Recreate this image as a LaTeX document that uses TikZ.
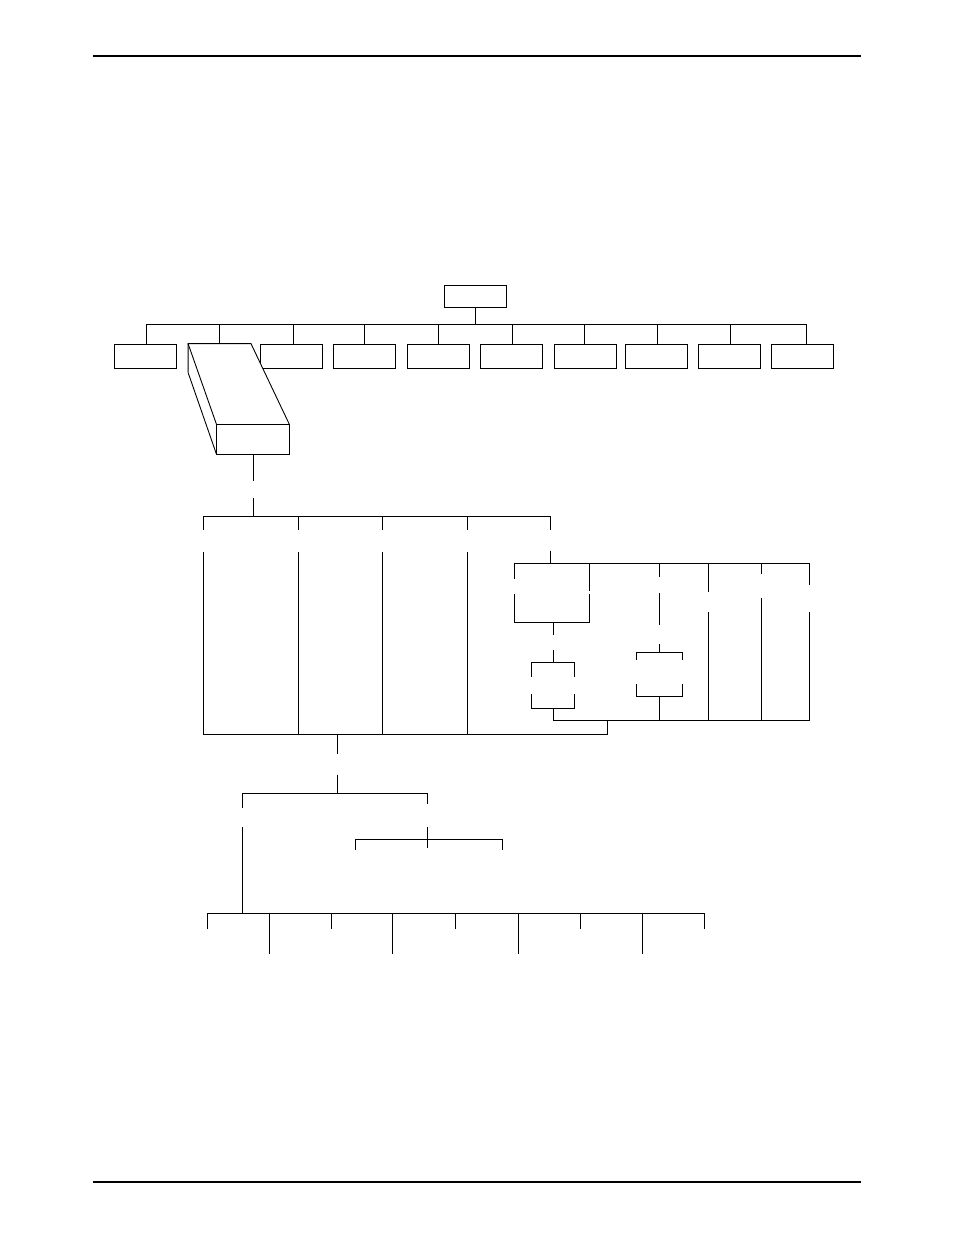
\documentclass[tikz,border=0pt]{standalone}
\usepackage{tikz}

\tikzset{
  blk/.style={draw, fill=white, inner sep=0pt, minimum width=62pt, minimum height=24pt},
  slot/.style={inner sep=0pt, minimum width=0pt, minimum height=#1},
  rule/.style={line width=1.4pt},
}

\begin{document}
\begin{tikzpicture}[x=1pt, y=-1pt, line width=0.9pt]
    \useasboundingbox (0,0) rectangle (954,1235);

    \draw[rule] (93,56) -- (861,56);
    \draw[rule] (93,1182) -- (861,1182);

    % top level
    \node[blk, minimum height=22pt] at (475,296) (top) {};
    \coordinate (j1) at (475,324);
    \draw (top) -- (j1);
    \foreach \n/\x in {1/145,3/291,4/364,5/438,6/511,7/585,8/656,9/729,10/802}
      \node[blk] at (\x,356) (b\n) {};
    \draw (146,344) |- (806,324) -- (806,344);
    \foreach \d in {293.9,364.8,438.5,512.3,584.2,657.5,730.3}
      \draw (\d,344) -- (\d,324);

    % the pulled-out box
    \node[inner sep=0pt, minimum width=62pt, minimum height=28pt] at (219.5,358) (b2) {};
    \node[inner sep=0pt, minimum width=72pt, minimum height=29pt] at (253,439.5) (b2f) {};
    \fill[white] (b2.north west) -- (b2.north east) -- (b2f.north east) -- (b2f.south east)
      -- (b2f.south west) -- (b2.south west) -- cycle;
    \draw (b2.south west) -- (b2.north west) -- (b2.north east) -- (b2f.north east);
    \draw (b2.north west) -- (b2f.north west);
    \draw (b2.south west) -- (b2f.south west);
    \draw (b2f.north west) rectangle (b2f.south east);
    \draw (b2.north) -- (b2.north |- j1);

    % second level
    \node[slot=17pt] at (253,489.5) (s0) {};
    \coordinate (j2) at (253,516);
    \draw (b2f) -- (s0) -- (j2);
    \foreach \n/\x in {1/203.5,2/298,3/382,4/467}
      \node[slot=21pt] at (\x,541.2) (c\n) {};
    \node[slot=19.5pt] at (550.4,540.3) (c5) {};
    \draw (c1.north) |- (c5.north |- j2) -- (c5.north);
    \foreach \n in {2,3,4}
      \draw (c\n.north) -- (c\n.north |- j2);
    \coordinate (j3) at (337.6,734.3);
    \coordinate (j5) at (607.6,720);
    \draw (c1.south) |- (j5 |- j3) -- (j5);
    \foreach \n in {2,3,4}
      \draw (c\n.south) -- (c\n.south |- j3);

    % right branch
    \coordinate (j4) at (550.4,563);
    \draw (c5) -- (j4);
    \node[slot=15pt] at (514.5,586.5) (r1) {};
    \node[slot=3pt] at (589,592.5) (r2) {};
    \node[slot=16pt] at (659,585) (r3) {};
    \node[slot=19pt] at (708.4,601.8) (r4) {};
    \node[slot=22.6pt] at (761.4,586) (r5) {};
    \node[slot=25.4pt] at (809.6,598.6) (r6) {};
    \draw (r1.north) |- (r6.north |- j4) -- (r6.north);
    \foreach \n in {2,3,4,5}
      \draw (r\n.north) -- (r\n.north |- j4);
    \coordinate (j6) at (553.3,720);
    \draw (j6) -- (r6.south |- j6) -- (r6.south);
    \foreach \n in {4,5}
      \draw (r\n.south) -- (r\n.south |- j6);

    % left pair
    \coordinate (k1) at (553.3,622.3);
    \draw (r1.south) |- (r2.south |- k1) -- (r2.south);
    \node[slot=14.3pt] at (553.3,642.2) (q1) {};
    \draw (k1) -- (q1);
    \node[slot=16pt] at (531,685.3) (q2) {};
    \node[slot=16pt] at (574,685.3) (q3) {};
    \coordinate (k2) at (553.3,662.7);
    \draw (q1) -- (k2);
    \draw (q2.north) |- (k2) -| (q3.north);
    \coordinate (k3) at (553.3,708.3);
    \draw (q2.south) |- (k3) -| (q3.south);
    \draw (k3) -- (j6);

    % middle pair
    \node[slot=17.6pt] at (659,634.5) (q4) {};
    \draw (r3) -- (q4);
    \coordinate (k4) at (659,652.3);
    \node[slot=23.3pt] at (636.5,672.3) (q5) {};
    \node[slot=23.3pt] at (682.7,672.3) (q6) {};
    \draw (q4) -- (k4);
    \draw (q5.north) |- (k4) -| (q6.north);
    \coordinate (k5) at (659,696.3);
    \draw (q5.south) |- (k5) -| (q6.south);
    \draw (k5) -- (k5 |- j6);

    % lower part
    \node[slot=19.7pt] at (337.6,764.2) (t0) {};
    \draw (j3) -- (t0);
    \coordinate (j7) at (337.6,793);
    \node[slot=18.3pt] at (242.4,817.2) (t1) {};
    \node[slot=22.3pt] at (427.5,815.2) (t2) {};
    \draw (t0) -- (j7);
    \draw (t1.north) |- (j7) -| (t2.north);
    \coordinate (j8) at (427.5,839);
    \draw (t2.south) -- (427.5,847.7);
    \draw (355.9,850) |- (j8) -| (502.4,850);

    \coordinate (j9) at (242.4,913.7);
    \draw (t1.south) -- (j9);
    \draw (207.3,913.7) -- (704.9,913.7);
    \foreach \x in {207.3,331.9,455.4,580.3,704.9}
      \draw (\x,913.7) -- ++(0,15.3);
    \foreach \x in {269.6,392.4,518,642.6}
      \draw (\x,913.7) -- ++(0,40.3);
\end{tikzpicture}
\end{document}
